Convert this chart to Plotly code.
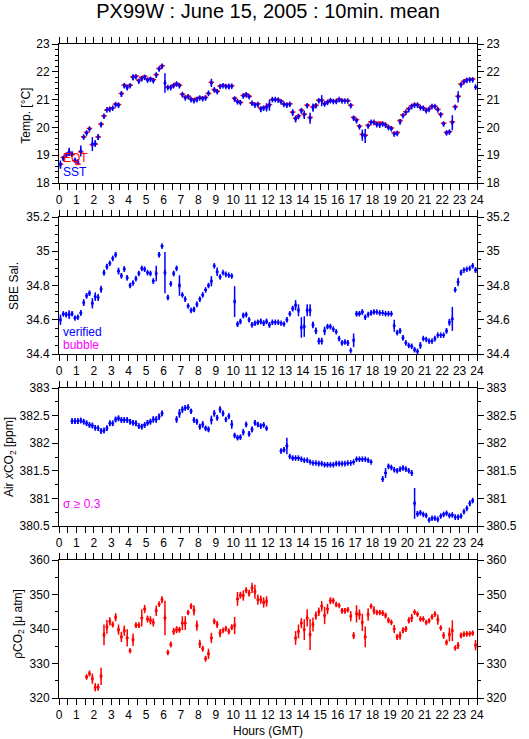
import plotly.graph_objects as go

# 10-minute bin centres (hours GMT), 6 bins per hour
hours = [(i + 0.5) / 6 for i in range(144)]

# --- Panel 1: temperatures [deg C] ---
sst = [
    18.66, 18.88, 19.0, 19.12, 19.04, 18.82,
    18.75, 19.15, 19.65, 19.8, 19.94, 19.4,
    19.42, 19.65, 20.1, 20.4, 20.63, 20.65,
    20.69, 20.82, 20.8, 21.2, 21.5, 21.43,
    21.5, 21.8, 21.82, 21.66, 21.75, 21.8,
    21.7, 21.73, 21.68, 21.88, 22.1, 22.2,
    21.6, 21.43, 21.43, 21.5, 21.56, 21.5,
    21.18, 21.06, 21.1, 21.0, 20.96, 21.0,
    21.06, 21.03, 21.06, 21.23, 21.6, 21.35,
    21.28, 21.47, 21.5, 21.47, 21.47, 21.48,
    21.02, 20.92, 20.89, 21.13, 21.17, 21.1,
    20.87, 20.8, 20.82, 20.65, 20.69, 20.72,
    20.8, 21.0, 21.0, 20.98, 20.92, 20.83,
    20.8, 20.83, 20.53, 20.3, 20.39, 20.6,
    20.45, 20.78, 20.33, 20.71, 20.78, 20.96,
    20.96, 20.84, 20.9, 20.96, 20.93, 20.93,
    21.0, 20.95, 20.95, 20.95, 20.78, 20.33,
    20.24, 20.02, 19.72, 19.69, 20.05, 20.18,
    20.18, 20.1, 20.08, 20.12, 20.08, 19.99,
    19.95, 19.76, 19.78, 20.2, 20.42, 20.54,
    20.65, 20.75, 20.8, 20.8, 20.71, 20.69,
    20.6, 20.65, 20.75, 20.75, 20.63, 20.45,
    20.12, 19.8, 19.83, 20.17, 20.72, 21.1,
    21.53, 21.64, 21.69, 21.71, 21.71, 21.45,
]
sst_sd = [
    0.15, 0.06, 0.06, 0.15, 0.08, 0.06,
    0.05, 0.2, 0.06, 0.06, 0.05, 0.25,
    0.12, 0.1, 0.08, 0.06, 0.04, 0.04,
    0.04, 0.06, 0.08, 0.1, 0.08, 0.08,
    0.06, 0.1, 0.06, 0.06, 0.08, 0.06,
    0.05, 0.05, 0.06, 0.06, 0.06, 0.06,
    0.35, 0.05, 0.04, 0.04, 0.03, 0.04,
    0.04, 0.04, 0.03, 0.06, 0.06, 0.06,
    0.05, 0.05, 0.08, 0.04, 0.15, 0.06,
    0.03, 0.03, 0.03, 0.05, 0.1, 0.06,
    0.08, 0.06, 0.04, 0.06, 0.06, 0.04,
    0.06, 0.05, 0.08, 0.1, 0.06, 0.15,
    0.2, 0.03, 0.03, 0.03, 0.05, 0.06,
    0.05, 0.06, 0.12, 0.12, 0.06, 0.1,
    0.15, 0.05, 0.2, 0.15, 0.06, 0.06,
    0.2, 0.06, 0.06, 0.05, 0.04, 0.04,
    0.03, 0.03, 0.03, 0.03, 0.06, 0.06,
    0.06, 0.04, 0.2, 0.25, 0.06, 0.03,
    0.03, 0.06, 0.03, 0.04, 0.03, 0.03,
    0.03, 0.06, 0.05, 0.08, 0.05, 0.04,
    0.04, 0.04, 0.03, 0.03, 0.03, 0.03,
    0.03, 0.03, 0.03, 0.03, 0.05, 0.04,
    0.06, 0.06, 0.05, 0.27, 0.04, 0.2,
    0.05, 0.04, 0.03, 0.03, 0.05, 0.06,
]
eqt = [
    18.68, 18.92, 19.0, 19.08, 19.02, 18.8,
    18.68, 19.12, 19.66, 19.82, 19.96, 19.38,
    19.4, 19.66, 20.12, 20.42, 20.62, 20.68,
    20.7, 20.84, 20.82, 21.22, 21.52, 21.48,
    21.52, 21.82, 21.85, 21.7, 21.8, 21.84,
    21.74, 21.76, 21.72, 21.9, 22.12, 22.22,
    None, 21.45, 21.46, 21.52, 21.58, 21.52,
    21.2, 21.1, 21.12, 21.03, 21.0, 21.05,
    21.08, 21.06, 21.08, 21.22, 21.62, 21.36,
    21.3, 21.49, 21.52, 21.5, 21.48, 21.5,
    21.05, 20.95, 20.9, 21.15, 21.2, 21.12,
    20.88, 20.84, 20.85, 20.7, 20.72, 20.75,
    20.82, 21.0, 21.0, 21.0, 20.95, 20.84,
    20.84, 20.85, 20.55, 20.33, 20.42, 20.62,
    20.48, 20.8, 20.36, 20.74, 20.8, 20.98,
    20.98, 20.86, 20.92, 20.98, 20.95, 20.96,
    21.02, 20.97, 20.97, 20.96, 20.8, 20.36,
    20.28, 20.05, 19.75, 19.72, 20.08, 20.2,
    20.2, 20.12, 20.18, 20.15, 20.1, 20.02,
    19.98, 19.8, 19.82, 20.25, 20.45, 20.56,
    20.68, 20.78, 20.83, 20.82, 20.73, 20.7,
    20.62, 20.68, 20.77, 20.76, 20.65, 20.48,
    20.15, 19.82, 19.85, 20.2, 20.75, 21.12,
    21.56, 21.66, 21.72, 21.73, 21.74, None,
]

# --- Panel 2: SBE salinity (verified) ---
sal = [
    34.6, 34.634, 34.63, 34.63, 34.635, 34.61,
    34.615, 34.64, 34.70, 34.74, 34.755, 34.696,
    34.735, 34.73, 34.778, 34.875, 34.91, 34.93,
    34.958, 34.98, 34.884, 34.857, 34.896, 34.845,
    34.80, 34.815, 34.84, 34.87, 34.9, 34.895,
    34.875, 34.87, 34.826, 34.87, 34.98, 35.03,
    34.875, 34.73, 34.81, 34.87, 34.90, 34.80,
    34.745, 34.72, 34.68, 34.655, 34.66, 34.69,
    34.72, 34.745, 34.774, 34.80, 34.825, 34.915,
    34.88, 34.85, 34.875, 34.865, 34.86, 34.855,
    34.706, 34.574, 34.59, 34.625, 34.63, 34.6,
    34.57, 34.58, 34.585, 34.59, 34.58, 34.59,
    34.57, 34.585, 34.585, 34.585, 34.58, 34.575,
    34.6, 34.635, 34.665, 34.685, 34.655, 34.555,
    34.56, 34.655, 34.655, 34.57, 34.535, 34.475,
    34.475, 34.535, 34.56, 34.56, 34.545, 34.53,
    34.49, 34.465, 34.47, 34.465, 34.42, 34.48,
    34.635, 34.635, 34.645, 34.615, 34.63, 34.64,
    34.645, 34.645, 34.64, 34.64, 34.635, 34.635,
    34.635, 34.565, 34.525, 34.535, 34.495, 34.465,
    34.45, 34.445, 34.425, 34.415, 34.45, 34.49,
    34.485, 34.475, 34.475, 34.49, 34.51, 34.51,
    34.51, 34.535, 34.585, 34.605, 34.775, 34.82,
    34.875, 34.89, 34.895, 34.9, 34.915, 34.89,
]
sal_sd = [
    0.03, 0.012, 0.015, 0.025, 0.012, 0.01,
    0.01, 0.015, 0.02, 0.015, 0.015, 0.03,
    0.025, 0.02, 0.02, 0.015, 0.015, 0.01,
    0.012, 0.015, 0.02, 0.015, 0.015, 0.015,
    0.012, 0.01, 0.01, 0.012, 0.012, 0.012,
    0.01, 0.01, 0.015, 0.045, 0.015, 0.01,
    0.12, 0.015, 0.015, 0.015, 0.012, 0.06,
    0.01, 0.015, 0.01, 0.008, 0.015, 0.015,
    0.015, 0.012, 0.008, 0.01, 0.03, 0.01,
    0.025, 0.012, 0.006, 0.006, 0.006, 0.01,
    0.09, 0.015, 0.015, 0.015, 0.01, 0.012,
    0.01, 0.01, 0.012, 0.015, 0.015, 0.015,
    0.015, 0.008, 0.006, 0.006, 0.006, 0.008,
    0.015, 0.012, 0.015, 0.03, 0.035, 0.06,
    0.06, 0.035, 0.035, 0.02, 0.02, 0.02,
    0.02, 0.025, 0.012, 0.01, 0.01, 0.008,
    0.012, 0.012, 0.012, 0.015, 0.004, 0.04,
    0.015, 0.01, 0.015, 0.012, 0.008, 0.012,
    0.012, 0.005, 0.005, 0.004, 0.004, 0.004,
    0.004, 0.035, 0.01, 0.012, 0.015, 0.01,
    0.01, 0.012, 0.012, 0.01, 0.02, 0.006,
    0.008, 0.006, 0.006, 0.012, 0.004, 0.004,
    0.004, 0.015, 0.02, 0.07, 0.012, 0.025,
    0.015, 0.004, 0.004, 0.004, 0.012, 0.015,
]

# --- Panel 3: air xCO2 [ppm] ---
xco2 = [
    None, None, None, None, 382.4, 382.4,
    382.4, 382.41, 382.39, 382.36, 382.33, 382.32,
    382.28, 382.27, 382.22, 382.23, 382.27, 382.36,
    382.36, 382.43, 382.45, 382.42, 382.42, 382.42,
    382.39, 382.37, 382.36, 382.31, 382.3, 382.33,
    382.37, 382.39, 382.43, 382.43, 382.48, 382.54,
    None, None, None, None, 382.43, 382.54,
    382.61, 382.64, 382.65, 382.58, 382.42, 382.39,
    382.3, 382.34, 382.27, 382.25, 382.42, 382.54,
    382.46, 382.61, 382.54, 382.43, 382.49, 382.34,
    382.14, 382.1, 382.11, 382.2, 382.34, 382.17,
    382.25, 382.37, 382.34, 382.31, 382.33, 382.27,
    None, None, None, None, 381.86, 381.88,
    381.95, 381.76, 381.73, 381.73, 381.73, 381.71,
    381.69, 381.69, 381.66, 381.64, 381.64, 381.63,
    381.63, 381.61, 381.61, 381.61, 381.61, 381.63,
    381.63, 381.63, 381.63, 381.64, 381.64, 381.66,
    381.71, 381.71, 381.71, 381.71, 381.69, 381.66,
    None, None, None, 381.35, 381.46, 381.58,
    381.56, 381.52, 381.5, 381.53, 381.55, 381.53,
    381.5, 381.46, 380.91, 380.72, 380.74, 380.71,
    380.69, 380.61, 380.64, 380.64, 380.62, 380.68,
    380.71, 380.73, 380.69, 380.7, 380.66, 380.66,
    380.68, 380.76, 380.82, 380.91, 380.96, None,
]
xco2_sd = [
    0, 0, 0, 0, 0.05, 0.05,
    0.05, 0.05, 0.05, 0.05, 0.05, 0.05,
    0.05, 0.05, 0.05, 0.05, 0.05, 0.05,
    0.05, 0.05, 0.05, 0.05, 0.05, 0.05,
    0.05, 0.05, 0.05, 0.05, 0.05, 0.05,
    0.05, 0.05, 0.06, 0.06, 0.06, 0.05,
    0, 0, 0, 0, 0.06, 0.08,
    0.06, 0.05, 0.05, 0.04, 0.05, 0.05,
    0.05, 0.06, 0.04, 0.05, 0.08, 0.06,
    0.05, 0.06, 0.05, 0.04, 0.05, 0.08,
    0.04, 0.04, 0.04, 0.06, 0.05, 0.05,
    0.05, 0.05, 0.04, 0.04, 0.04, 0.03,
    0, 0, 0, 0, 0.04, 0.04,
    0.15, 0.03, 0.03, 0.02, 0.02, 0.02,
    0.02, 0.02, 0.02, 0.02, 0.02, 0.02,
    0.02, 0.02, 0.02, 0.02, 0.02, 0.02,
    0.03, 0.02, 0.02, 0.02, 0.02, 0.02,
    0.02, 0.02, 0.02, 0.02, 0.02, 0.02,
    0, 0, 0, 0.05, 0.09, 0.04,
    0.03, 0.03, 0.03, 0.03, 0.04, 0.03,
    0.03, 0.05, 0.28, 0.05, 0.03, 0.03,
    0.03, 0.03, 0.03, 0.03, 0.03, 0.03,
    0.03, 0.03, 0.03, 0.03, 0.03, 0.03,
    0.03, 0.03, 0.03, 0.05, 0.04, 0,
]

# --- Panel 4: seawater pCO2 [uatm] ---
pco2 = [
    None, None, None, None, None, None,
    None, None, None, 326.1, 327.1, 325.6,
    323.1, 323.1, 326.3, 338.3, 340.6, 342.2,
    341.3, 343.4, 339.8, 337.7, 339.5, 337.4,
    333.7, 336.9, 341.1, 341.1, 343.2, 345.8,
    342.9, 342.5, 341.9, 345.3, 347.2, 348.5,
    343.2, 333.2, 335.5, 339.3, 339.8, 339.8,
    341.7, 341.7, 344.8, 346.6, 345.4, 341.0,
    335.7, 334.3, 331.4, 332.8, 337.4, 342.2,
    341.3, 338.8, 339.6, 340.1, 339.3, 340.5,
    341.0, 348.7, 349.8, 349.7, 351.2, 350.4,
    351.9, 350.8, 348.5, 348.5, 347.7, 348.0,
    None, None, None, None, None, None,
    None, None, None, 337.4, 339.3, 341.7,
    339.8, 343.2, 338.4, 341.3, 343.9, 345.0,
    346.6, 343.9, 345.8, 348.2, 348.2, 347.1,
    346.8, 345.3, 345.3, 345.6, 343.7, 338.1,
    344.4, 344.2, 341.9, 337.7, 344.2, 346.6,
    345.4, 344.8, 344.8, 344.6, 343.9, 342.5,
    341.9, 340.0, 337.7, 338.1, 339.6, 340.0,
    342.5, 343.2, 344.9, 344.3, 342.9, 342.9,
    341.9, 342.4, 343.5, 344.3, 342.7, 340.3,
    338.1, 336.1, 338.4, 339.5, 334.5, 335.2,
    338.1, 338.5, 338.6, 338.6, 338.8, 335.3,
]
pco2_sd = [
    0, 0, 0, 0, 0, 0,
    0, 0, 0, 0.6, 0.8, 1.5,
    1.2, 1.0, 2.5, 3.0, 2.0, 1.2,
    0.8, 1.2, 1.5, 1.5, 1.5, 2.5,
    0.4, 1.8, 0.8, 0.8, 2.5, 1.2,
    1.0, 1.2, 1.2, 1.5, 0.5, 1.0,
    5.0, 0.6, 0.8, 1.0, 1.0, 0.8,
    2.0, 2.0, 0.5, 0.8, 1.5, 1.5,
    1.2, 0.8, 0.8, 1.5, 1.5, 0.8,
    1.0, 1.2, 0.5, 0.5, 0.8, 0.8,
    2.5, 2.0, 1.0, 1.5, 0.8, 1.0,
    1.5, 2.0, 1.5, 1.2, 1.5, 1.5,
    0, 0, 0, 0, 0, 0,
    0, 0, 0, 2.0, 2.0, 1.5,
    3.0, 2.5, 4.5, 2.0, 1.2, 1.2,
    1.5, 2.5, 1.5, 1.0, 0.8, 0.5,
    0.4, 0.8, 0.8, 0.5, 1.5, 1.0,
    2.5, 1.5, 2.5, 3.0, 1.8, 0.5,
    1.2, 0.5, 0.5, 0.8, 0.8, 0.8,
    0.5, 1.2, 0.8, 1.2, 0.8, 0.8,
    0.8, 1.2, 0.5, 0.5, 0.5, 0.5,
    0.5, 0.5, 0.5, 0.5, 1.5, 0.5,
    1.0, 0.8, 2.0, 3.0, 0.5, 1.0,
    0.8, 0.5, 0.5, 0.4, 0.5, 1.5,
]

COLORS = {"blue": "#0000ff", "red": "#ff0000", "magenta": "#ff00ff", "axis": "#000000"}
FONT = "Liberation Sans, Arial, Helvetica, sans-serif"

# plot area in pixels: left 59, right 486, top 44, bottom 698
L, R, T, B = 59, 486, 44, 698


def px_x(p):
    return (p - L) / (R - L)


def px_y(p):
    return (B - p) / (B - T)


# (x axis, y axis, right y axis, y range, major dtick, minor dtick, pixel top, pixel bottom)
panels = [
    ("x", "y", "y5", [18, 23], 1, 0.2, 44, 183),
    ("x2", "y2", "y6", [34.4, 35.2], 0.2, 0.05, 217, 354),
    ("x3", "y3", "y7", [380.5, 383], 0.5, 0.25, 388, 526),
    ("x4", "y4", "y8", [320, 360], 10, 5, 560, 698),
]


def add_series(fig, y, sd, color, xa, ya, cross=True):
    # each 10-min mean: a small "+" plus its spread as a vertical bar
    fig.add_trace(go.Scatter(
        x=hours, y=y, mode="markers", xaxis=xa, yaxis=ya,
        marker=dict(symbol="line-ns" if cross else "line-ew", size=4,
                    color=color, line=dict(width=1.5, color=color)),
        error_x=dict(type="constant", value=1 / 12, color=color, thickness=2, width=0),
        error_y=dict(type="data", array=sd, color=color, thickness=1.5, width=0,
                     visible=cross),
        showlegend=False, hoverinfo="skip",
    ))


fig = go.Figure()
add_series(fig, eqt, None, COLORS["red"], "x", "y", cross=False)
add_series(fig, sst, sst_sd, COLORS["blue"], "x", "y")
add_series(fig, sal, sal_sd, COLORS["blue"], "x2", "y2")
add_series(fig, xco2, xco2_sd, COLORS["blue"], "x3", "y3")
add_series(fig, pco2, pco2_sd, COLORS["red"], "x4", "y4")

layout = dict(
    width=529, height=739,
    margin=dict(l=L, r=529 - R, t=T, b=739 - B),
    paper_bgcolor="white", plot_bgcolor="white",
    font=dict(family=FONT, size=12, color="black"),
    showlegend=False,
    title=dict(text="PX99W : June 15, 2005 : 10min. mean", x=0.5, xref="paper",
               xanchor="center", y=1 - 11 / 739, yanchor="middle",
               font=dict(size=20, family=FONT)),
)

common = dict(showline=True, linecolor=COLORS["axis"], linewidth=1, showgrid=False,
              zeroline=False, ticks="outside", ticklen=6, tickcolor=COLORS["axis"],
              tickfont=dict(size=12))

for xa, ya, yr, rng, dt, mdt, top, bot in panels:
    xkey = "xaxis" + xa[1:]
    ykey = "yaxis" + ya[1:]
    rkey = "yaxis" + yr[1:]
    layout[xkey] = dict(common, domain=[0, 1], anchor=ya, range=[0, 24], dtick=1, tick0=0,
                        mirror="allticks",
                        minor=dict(dtick=0.5, ticks="outside", ticklen=3, showgrid=False,
                                   tickcolor=COLORS["axis"]))
    layout[ykey] = dict(common, domain=[px_y(bot), px_y(top)], anchor=xa, range=rng,
                        dtick=dt, mirror=True,
                        minor=dict(dtick=mdt, ticks="outside", ticklen=3, showgrid=False,
                                   tickcolor=COLORS["axis"]))
    layout[rkey] = dict(common, overlaying=ya, side="right", anchor=xa, range=rng, dtick=dt,
                        showline=False,
                        minor=dict(dtick=mdt, ticks="outside", ticklen=3, showgrid=False,
                                   tickcolor=COLORS["axis"]))
    # empty trace so the right-hand axis is drawn
    fig.add_trace(go.Scatter(x=[], y=[], xaxis=xa, yaxis=yr, showlegend=False,
                             hoverinfo="skip"))

fig.update_layout(**layout)

# axis titles and in-panel labels
notes = [
    ("Temp. [°C]", 25, 116, -90, "black", "center"),
    ("SBE Sal.", 13, 286, -90, "black", "center"),
    ("Air <i>x</i>CO<sub>2</sub> [ppm]", 9, 457, -90, "black", "center"),
    ("ρCO<sub>2</sub> [μ atm]", 18, 624, -90, "black", "center"),
    ("Hours (GMT)", 272, 731, 0, "black", "center"),
    ("EQT", 61, 158, 0, COLORS["red"], "left"),
    ("SST", 61, 172, 0, COLORS["blue"], "left"),
    ("verified", 61, 332, 0, COLORS["blue"], "left"),
    ("bubble", 61, 345, 0, COLORS["magenta"], "left"),
    ("σ ≥ 0.3", 61, 504, 0, COLORS["magenta"], "left"),
]
for text, px, py, angle, color, anchor in notes:
    fig.add_annotation(text=text, xref="paper", yref="paper", x=px_x(px), y=px_y(py),
                       xanchor=anchor, yanchor="middle", textangle=angle, showarrow=False,
                       font=dict(size=12, color=color, family=FONT))

# the page's default body margin would shift the figure by 8px
fig.write_html("out.html", config={"displayModeBar": False},
               post_script="document.body.style.margin='0px';")
